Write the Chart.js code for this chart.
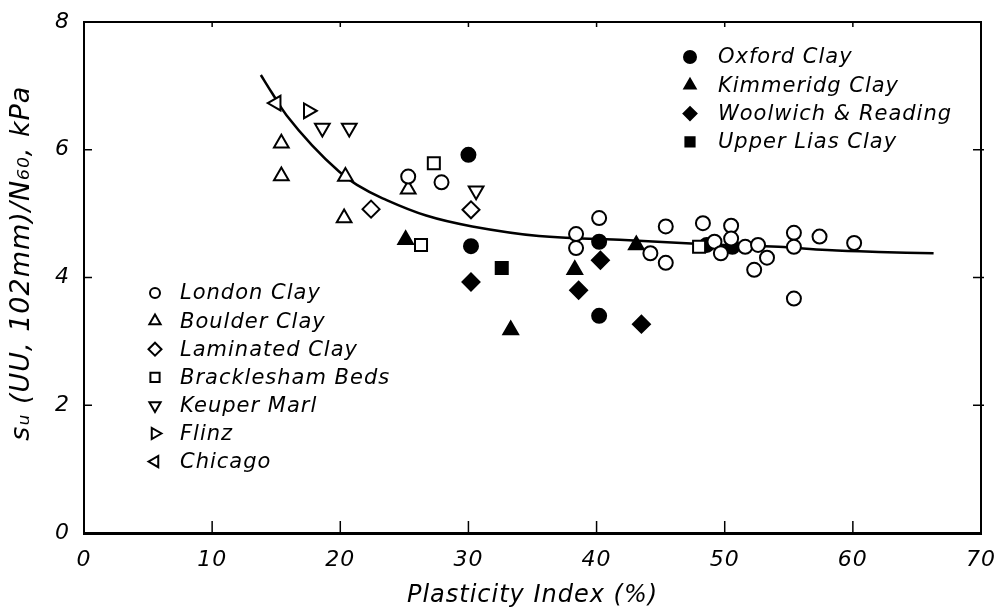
<!DOCTYPE html>
<html>
<head>
<meta charset="utf-8">
<script src="https://cdn.jsdelivr.net/npm/chart.js"></script>
<style>
  html, body { margin: 0; padding: 0; background: #fff; }
  #wrap { width: 1001px; height: 614px; }
</style>
</head>
<body>
<div id="wrap"><canvas id="myChart" width="1001" height="614"></canvas></div>
<script>
// values: plasticity index (%) vs su/N60 (kPa)
const londonX = [25.3, 27.9, 38.4, 38.4, 40.2, 44.2, 45.4, 45.4, 48.3, 49.2, 49.7, 50.5, 50.5, 51.6, 52.6, 53.3, 52.3, 55.4, 55.4, 55.4, 57.4, 60.1];
const londonY = [5.58, 5.49, 4.68, 4.46, 4.93, 4.38, 4.80, 4.23, 4.85, 4.56, 4.38, 4.81, 4.61, 4.48, 4.51, 4.31, 4.12, 4.70, 4.48, 3.67, 4.64, 4.54];
const boulderX = [15.4, 15.4, 20.4, 20.3, 25.3];
const boulderY = [6.10, 5.59, 5.58, 4.93, 5.38];
const laminatedX = [22.4, 30.2];
const laminatedY = [5.07, 5.06];
const brackleshamX = [27.3, 26.3, 48.0];
const brackleshamY = [5.79, 4.51, 4.48];
const keuperX = [18.6, 20.7, 30.6];
const keuperY = [6.34, 6.34, 5.36];
const flinzX = [17.5];
const flinzY = [6.61];
const chicagoX = [15.0];
const chicagoY = [6.73];
const oxfordX = [30.0, 30.2, 40.2, 40.2, 50.6, 48.6];
const oxfordY = [5.92, 4.49, 4.56, 3.40, 4.48, 4.51];
const kimmeridgX = [25.1, 33.3, 38.3, 43.1];
const kimmeridgY = [4.59, 3.18, 4.12, 4.51];
const woolwichX = [30.2, 38.6, 40.3, 43.5];
const woolwichY = [3.93, 3.80, 4.27, 3.27];
const liasX = [32.6];
const liasY = [4.15];
// trend curve
const curveX = [13.8, 14.7, 15.8, 17.8, 19.9, 21.3, 23.3, 26.7, 30.3, 35.5, 41.8, 45.5, 50, 54.2, 58, 62, 66.3];
const curveY = [7.17, 6.88, 6.54, 6.07, 5.66, 5.45, 5.24, 4.97, 4.80, 4.65, 4.59, 4.55, 4.51, 4.48, 4.43, 4.40, 4.38];

const xTicks = [0, 10, 20, 30, 40, 50, 60, 70];
const yTicks = [0, 2, 4, 6, 8];

const FONT = '"DejaVu Sans", sans-serif';

function pts(xs, ys) {
  return xs.map((v, i) => ({ x: v, y: ys[i] }));
}

function markerSet(label, xs, ys, style, rotation, filled, group) {
  return {
    label: label,
    data: pts(xs, ys),
    pointStyle: style,
    pointRotation: rotation,
    pointRadius: style === 'circle' ? 7 : 8.5,
    pointBorderWidth: 2,
    pointBorderColor: '#000',
    pointBackgroundColor: filled ? '#000' : '#fff',
    showLine: false,
    order: 1,
    group: group
  };
}

const datasets = [
  markerSet('London Clay', londonX, londonY, 'circle', 0, false, 'open'),
  markerSet('Boulder Clay', boulderX, boulderY, 'triangle', 0, false, 'open'),
  markerSet('Laminated Clay', laminatedX, laminatedY, 'rectRot', 0, false, 'open'),
  markerSet('Bracklesham Beds', brackleshamX, brackleshamY, 'rect', 0, false, 'open'),
  markerSet('Keuper Marl', keuperX, keuperY, 'triangle', 180, false, 'open'),
  markerSet('Flinz', flinzX, flinzY, 'triangle', 90, false, 'open'),
  markerSet('Chicago', chicagoX, chicagoY, 'triangle', -90, false, 'open'),
  markerSet('Oxford Clay', oxfordX, oxfordY, 'circle', 0, true, 'filled'),
  markerSet('Kimmeridg Clay', kimmeridgX, kimmeridgY, 'triangle', 0, true, 'filled'),
  markerSet('Woolwich & Reading', woolwichX, woolwichY, 'rectRot', 0, true, 'filled'),
  markerSet('Upper Lias Clay', liasX, liasY, 'rect', 0, true, 'filled'),
  {
    label: 'trend',
    data: pts(curveX, curveY),
    showLine: true,
    borderColor: '#000',
    borderWidth: 2.5,
    pointRadius: 0,
    tension: 0.4,
    order: 5
  }
];

function line(ctx, x1, y1, x2, y2) {
  ctx.beginPath();
  ctx.moveTo(x1, y1);
  ctx.lineTo(x2, y2);
  ctx.stroke();
}

const frameAndLegend = {
  id: 'frameAndLegend',
  beforeDraw(chart) {
    chart.ctx.letterSpacing = '1px';
  },
  afterDraw(chart) {
    const ctx = chart.ctx;
    const a = chart.chartArea;
    const x = chart.scales.x;
    const y = chart.scales.y;
    ctx.save();
    ctx.strokeStyle = '#000';
    ctx.lineWidth = 2;
    ctx.beginPath();
    ctx.moveTo(a.left, a.top);
    ctx.lineTo(a.right, a.top);
    ctx.lineTo(a.right, a.bottom);
    ctx.stroke();

    // inward ticks
    ctx.lineWidth = 1.5;
    x.ticks.forEach(t => {
      if (t.value <= 0 || t.value >= 70) return;
      const px = x.getPixelForValue(t.value);
      line(ctx, px, a.bottom, px, a.bottom - 12);
      line(ctx, px, a.top, px, a.top + 5);
    });
    y.ticks.forEach(t => {
      if (t.value <= 0 || t.value >= 8) return;
      const py = y.getPixelForValue(t.value);
      line(ctx, a.left, py, a.left + 8, py);
      line(ctx, a.right + 3, py, a.right - 8, py);
    });

    // two legend blocks
    const blocks = [
      { group: 'open', mx: 155, tx: 180, top: 293, step: 28.1 },
      { group: 'filled', mx: 690, tx: 718, top: 57, step: 28.3 }
    ];
    ctx.font = 'italic 21px ' + FONT;
    ctx.textBaseline = 'middle';
    ctx.letterSpacing = '1px';
    blocks.forEach(b => {
      let i = 0;
      chart.data.datasets.forEach(ds => {
        if (ds.group !== b.group) return;
        const py = b.top + i * b.step;
        ctx.fillStyle = ds.pointBackgroundColor;
        ctx.strokeStyle = '#000';
        ctx.lineWidth = 2;
        Chart.helpers.drawPoint(ctx, {
          pointStyle: ds.pointStyle,
          rotation: ds.pointRotation,
          radius: ds.pointStyle === 'circle' ? (b.group === 'filled' ? 6 : 5) : 6.5,
          borderWidth: 2
        }, b.mx, py);
        ctx.fillStyle = '#000';
        ctx.fillText(ds.label, b.tx, py + 1);
        i++;
      });
    });
    ctx.restore();
  }
};

const ctx = document.getElementById('myChart').getContext('2d');
const myChart = new Chart(ctx, {
  type: 'scatter',
  data: { datasets: datasets },
  options: {
    responsive: false,
    animation: false,
    devicePixelRatio: 1,
    layout: { padding: { top: 22, right: 17, left: 0, bottom: 0 } },
    plugins: {
      legend: { display: false },
      tooltip: { enabled: false }
    },
    scales: {
      x: {
        type: 'linear',
        min: 0,
        max: 70,
        afterFit: s => { s.height = 81; },
        afterBuildTicks: s => { s.ticks = xTicks.map(v => ({ value: v })); },
        grid: { display: false },
        border: { display: true, color: '#000', width: 3 },
        ticks: {
          color: '#000',
          padding: 6,
          font: { family: FONT, size: 22, style: 'italic' }
        },
        title: {
          display: true,
          text: 'Plasticity Index (%)',
          color: '#000',
          padding: { top: 12 },
          font: { family: FONT, size: 24, style: 'italic' }
        }
      },
      y: {
        type: 'linear',
        min: 0,
        max: 8,
        afterFit: s => { s.width = 84; },
        afterBuildTicks: s => { s.ticks = yTicks.map(v => ({ value: v })); },
        grid: { display: false },
        border: { display: true, color: '#000', width: 2 },
        ticks: {
          color: '#000',
          padding: 6,
          font: { family: FONT, size: 22, style: 'italic' }
        },
        title: {
          display: true,
          text: '   s\u1d64 (UU, 102mm)/N\u2086\u2080, kPa',
          color: '#000',
          padding: { top: 6, bottom: 0 },
          font: { family: FONT, size: 27, style: 'italic' }
        }
      }
    }
  },
  plugins: [frameAndLegend]
});
</script>
</body>
</html>
